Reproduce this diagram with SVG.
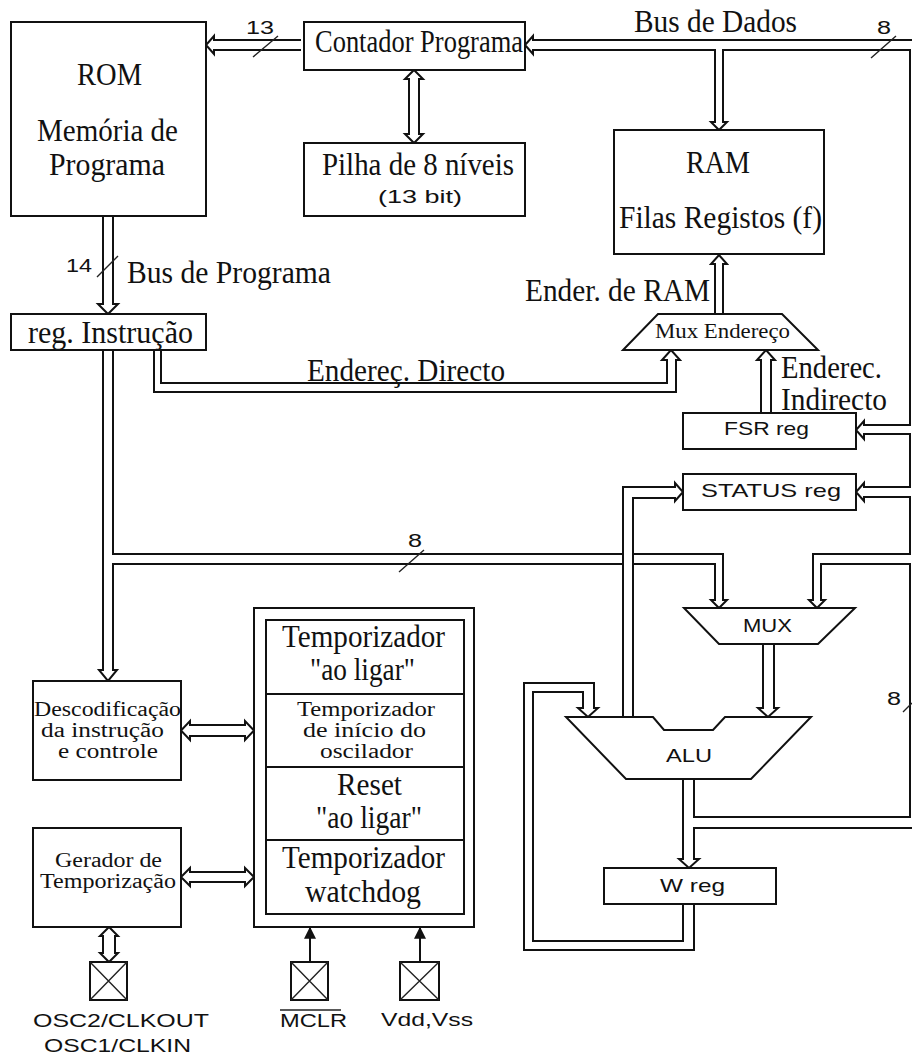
<svg xmlns="http://www.w3.org/2000/svg" width="912" height="1055" viewBox="0 0 912 1055">
<style>
text{fill:#111;font-family:"Liberation Serif","Times New Roman",serif;font-size:31px}
.s{font-family:"Liberation Sans",Arial,sans-serif;font-size:19px}
.n{font-family:"Liberation Sans",Arial,sans-serif;font-size:18px}
.t{font-size:20px}
.m{font-size:21px}
.b{fill:#fff;stroke:#111;stroke-width:2}
.c{fill:none;stroke:#111;stroke-width:2}
.l{fill:none;stroke:#222;stroke-width:1.4}
</style>
<defs>
<marker id="h" viewBox="0 0 10 10" refX="9" refY="5" markerWidth="12" markerHeight="12" markerUnits="userSpaceOnUse" orient="auto"><path d="M0 0L10 5L0 10Z" fill="#111"/></marker>
</defs>
<rect width="912" height="1055" fill="#fff"/>
<g id="connectors">
<path class="c" d="M301 40H214V36L206 45L214 54V50H301"/>
<path class="c" d="M912 40H533V36L525 45L533 54V50H715V122H711L719 130L727 122H723V50H910V425H864V421L856 430L864 439V434H910V487H864V483L856 492L864 501V497H910V554H813V600H809L817 608L825 600H821V564H910V817H694V779"/>
<path class="c" d="M912 828H694V859H699L689 868L679 859H683V779"/>
<path class="c" d="M103 350V670H99L108 681L117 670H113V564H623M633 564H715V600H711L719 608L727 600H723V554H633M623 554H113V350"/>
<path class="c" d="M623 717V487H675V483L683 492L675 501V498H633V717"/>
<path class="c" d="M683 904V941H533V692H583V708H578L588 717L598 708H594V683H524V950H694V904"/>
<path class="c" d="M763 644V708H758L768 717L778 708H774V644"/>
<path class="c" d="M154 350V392H676V360H680L671 350L662 360H667V383H161V350"/>
<path class="c" d="M761 413V360H757L766 350L775 360H771V413"/>
<path class="c" d="M715 314V264H711L719 255L727 264H723V314"/>
<path class="c" d="M103 216V304H98L108 314L118 304H113V216"/>
<path class="c" d="M409 79H405L414 70L423 79H419V134H423L414 143L405 134H409Z"/>
<path class="c" d="M190 725V721L181 730.5L190 740V736H245V740L254 730.5L245 721V725Z"/>
<path class="c" d="M190 872V868L181 877L190 886V882H245V886L254 877L245 868V872Z"/>
<path class="c" d="M103 936H100L109 927L118 936H115V953H118L109 962L100 953H103Z"/>
<line class="c" x1="310" y1="962" x2="310" y2="928" marker-end="url(#h)"/>
<line class="c" x1="420" y1="962" x2="420" y2="928" marker-end="url(#h)"/>
<path class="l" d="M253 57L278 36M871 58L896 36M97 277L118 256M399 572L424 550M903 712L912 703"/>
<text class="n" x="246" y="34" textLength="28" lengthAdjust="spacingAndGlyphs">13</text>
<text class="n" x="877" y="34" textLength="14" lengthAdjust="spacingAndGlyphs">8</text>
<text class="n" x="66" y="272" textLength="26" lengthAdjust="spacingAndGlyphs">14</text>
<text class="n" x="408" y="547" textLength="14" lengthAdjust="spacingAndGlyphs">8</text>
<text class="n" x="887" y="705" textLength="14" lengthAdjust="spacingAndGlyphs">8</text>
<text x="127" y="283" textLength="204" lengthAdjust="spacingAndGlyphs">Bus de Programa</text>
<text x="634" y="32" textLength="163" lengthAdjust="spacingAndGlyphs">Bus de Dados</text>
<text x="525" y="301" textLength="185" lengthAdjust="spacingAndGlyphs">Ender. de RAM</text>
<text x="307" y="381" textLength="198" lengthAdjust="spacingAndGlyphs">Endereç. Directo</text>
<text x="781" y="378" textLength="101" lengthAdjust="spacingAndGlyphs">Enderec.</text>
<text x="781" y="410" textLength="106" lengthAdjust="spacingAndGlyphs">Indirecto</text>
</g>
<g id="rom"><rect class="b" x="11" y="22" width="195" height="194"/>
<text x="77" y="85" textLength="65" lengthAdjust="spacingAndGlyphs">ROM</text>
<text x="37" y="141" textLength="141" lengthAdjust="spacingAndGlyphs">Memória de</text>
<text x="49" y="175" textLength="116" lengthAdjust="spacingAndGlyphs">Programa</text></g>
<g id="contador"><rect class="b" x="304" y="22" width="221" height="48"/>
<text x="315" y="52" textLength="208" lengthAdjust="spacingAndGlyphs">Contador Programa</text></g>
<g id="pilha"><rect class="b" x="304" y="143" width="221" height="73"/>
<text x="322" y="175" textLength="192" lengthAdjust="spacingAndGlyphs">Pilha de 8 níveis</text>
<text class="s" x="378" y="203" textLength="84" lengthAdjust="spacingAndGlyphs">(13 bit)</text></g>
<g id="ram"><rect class="b" x="614" y="130" width="210" height="124"/>
<text x="686" y="173" textLength="64" lengthAdjust="spacingAndGlyphs">RAM</text>
<text x="619" y="228" textLength="203" lengthAdjust="spacingAndGlyphs">Filas Registos (f)</text></g>
<g id="reg-instrucao"><rect class="b" x="11" y="314" width="195" height="36"/>
<text x="28" y="343" textLength="165" lengthAdjust="spacingAndGlyphs">reg. Instrução</text></g>
<g id="mux-endereco"><path class="b" d="M658 314H782L818 350H623Z"/>
<text class="m" x="655" y="338" textLength="135" lengthAdjust="spacingAndGlyphs">Mux Endereço</text></g>
<g id="fsr"><rect class="b" x="683" y="413" width="173" height="36"/>
<text class="s" x="724" y="435" textLength="85" lengthAdjust="spacingAndGlyphs">FSR reg</text></g>
<g id="status"><rect class="b" x="683" y="474" width="173" height="36"/>
<text class="s" x="701" y="497" textLength="140" lengthAdjust="spacingAndGlyphs">STATUS reg</text></g>
<g id="mux"><path class="b" d="M684 608H855L818 644H719Z"/>
<text class="s" x="743" y="632" textLength="49" lengthAdjust="spacingAndGlyphs">MUX</text></g>
<g id="alu"><path class="b" d="M566 717H653L664 730H713L725 717H811L751 779H626Z"/>
<text class="s" x="666" y="762" textLength="46" lengthAdjust="spacingAndGlyphs">ALU</text></g>
<g id="w-reg"><rect class="b" x="604" y="868" width="172" height="36"/>
<text class="s" x="660" y="892" textLength="65" lengthAdjust="spacingAndGlyphs">W reg</text></g>
<g id="descodificacao"><rect class="b" x="33" y="681" width="148" height="99"/>
<text class="t" x="34" y="716" textLength="147" lengthAdjust="spacingAndGlyphs">Descodificação</text>
<text class="t" x="41" y="737" textLength="123" lengthAdjust="spacingAndGlyphs">da instrução</text>
<text class="t" x="58" y="758" textLength="100" lengthAdjust="spacingAndGlyphs">e controle</text></g>
<g id="gerador"><rect class="b" x="33" y="828" width="148" height="99"/>
<text class="t" x="55" y="867" textLength="107" lengthAdjust="spacingAndGlyphs">Gerador de</text>
<text class="t" x="40" y="888" textLength="136" lengthAdjust="spacingAndGlyphs">Temporização</text></g>
<g id="temporizadores"><rect class="b" x="254" y="608" width="220" height="319"/>
<rect class="b" x="266" y="620" width="198" height="294"/>
<path class="c" d="M266 694H464M266 767H464M266 840H464"/>
<text x="282" y="647" textLength="163" lengthAdjust="spacingAndGlyphs">Temporizador</text>
<text x="310" y="680" textLength="105" lengthAdjust="spacingAndGlyphs">"ao ligar"</text>
<text class="t" x="297" y="716" textLength="138" lengthAdjust="spacingAndGlyphs">Temporizador</text>
<text class="t" x="303" y="737" textLength="123" lengthAdjust="spacingAndGlyphs">de início do</text>
<text class="t" x="320" y="758" textLength="93" lengthAdjust="spacingAndGlyphs">oscilador</text>
<text x="337" y="795" textLength="65" lengthAdjust="spacingAndGlyphs">Reset</text>
<text x="316" y="828" textLength="106" lengthAdjust="spacingAndGlyphs">"ao ligar"</text>
<text x="282" y="868" textLength="163" lengthAdjust="spacingAndGlyphs">Temporizador</text>
<text x="305" y="902" textLength="116" lengthAdjust="spacingAndGlyphs">watchdog</text></g>
<g id="pad-osc"><rect class="b" x="90" y="962" width="37" height="38"/><path class="l" d="M90 962L127 1000M127 962L90 1000"/>
<text class="s" x="33" y="1027" textLength="176" lengthAdjust="spacingAndGlyphs">OSC2/CLKOUT</text>
<text class="s" x="44" y="1052" textLength="147" lengthAdjust="spacingAndGlyphs">OSC1/CLKIN</text></g>
<g id="pad-mclr"><rect class="b" x="291" y="962" width="37" height="38"/><path class="l" d="M291 962L328 1000M328 962L291 1000"/>
<text class="s" x="280" y="1027" textLength="67" lengthAdjust="spacingAndGlyphs">MCLR</text>
<line class="l" x1="280" y1="1010" x2="341" y2="1010"/></g>
<g id="pad-vdd"><rect class="b" x="400" y="962" width="39" height="38"/><path class="l" d="M400 962L439 1000M439 962L400 1000"/>
<text class="s" x="381" y="1026" textLength="92" lengthAdjust="spacingAndGlyphs">Vdd,Vss</text></g>
</svg>
